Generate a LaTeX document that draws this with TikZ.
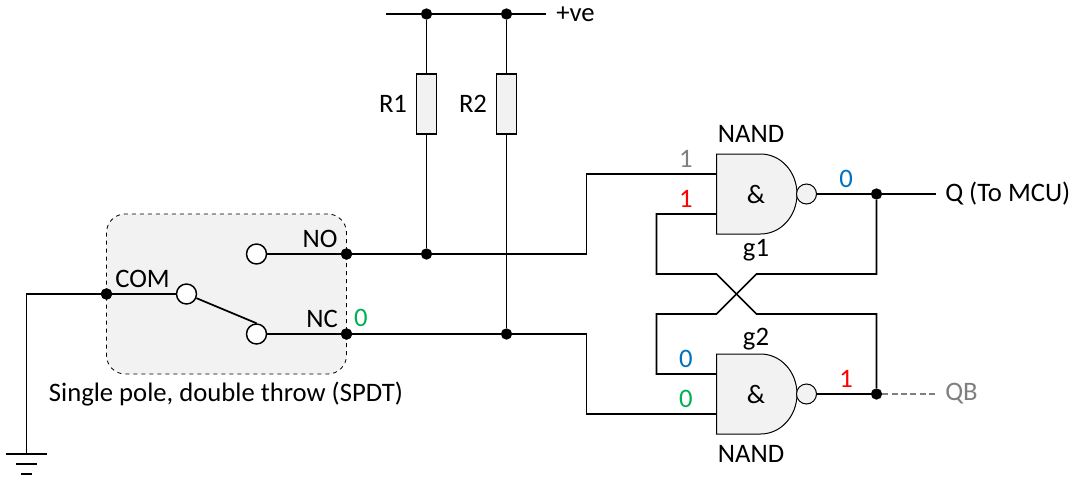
\documentclass[tikz,border=0pt]{standalone}
\usepackage{fontspec}
\setmainfont{Carlito}
\definecolor{shade}{HTML}{F2F2F2}
\definecolor{grn}{HTML}{00B050}
\definecolor{blu}{HTML}{0070C0}
\definecolor{rd}{HTML}{FF0000}
\definecolor{gry}{HTML}{7F7F7F}
\tikzset{
  x=0.75pt,y=-0.75pt,
  wire/.style={draw=black,line width=1.3pt,line join=miter},
  thin outline/.style={draw=black,line width=0.75pt},
  dot/.style={circle,fill=black,draw=none,minimum size=8.5pt,inner sep=0pt},
  contact/.style={circle,fill=white,draw=black,line width=1.1pt,minimum size=15pt,inner sep=0pt},
  bubble/.style={circle,fill=shade,thin outline,minimum size=15pt,inner sep=0pt},
  resistor/.style={rectangle,fill=shade,draw=black,line width=0.9pt,minimum width=15pt,minimum height=45pt,inner sep=0pt},
  gatebox/.style={rectangle,draw=none,minimum width=60pt,minimum height=60pt,inner sep=0pt},
  lbl/.style={font=\fontsize{20}{22}\selectfont,inner sep=0pt,text=black},
}
\newcommand{\gateshape}[1]{%
  \path[fill=shade,thin outline,shift={(#1.center)}]
    (-40,-40) -- (4,-40) .. controls (24.5,-40) and (40.5,-22) .. (40.5,0)
    .. controls (40.5,22) and (24.5,40) .. (4,40) -- (-40,40) -- cycle;}
\begin{document}
\begin{tikzpicture}
\useasboundingbox (0,0) rectangle (1082,485);
% switch housing
\node[rectangle,rounded corners=14pt,fill=shade,draw=black,dashed,line width=0.6pt,minimum width=180pt,minimum height=120pt,inner sep=0pt] (spdt) at (226.5,294) {};
% junction dots
\node[dot] (dcom) at (106.5,294) {};
\node[dot] (dno) at (346.5,254) {};
\node[dot] (dnc) at (346.5,334) {};
\node[dot] (dr1) at (426.5,254) {};
\node[dot] (dr2) at (506.5,334) {};
\node[dot] (t1) at (426.5,14) {};
\node[dot] (t2) at (506.5,14) {};
\node[dot] (dq) at (876.5,194) {};
\node[dot] (dqb) at (876.5,394) {};
% free ends and bends
\coordinate (gndtop) at (26.5,454);
\coordinate (railL) at (386,14);
\coordinate (railR) at (546,14);
\coordinate (qend) at (936,194);
\coordinate (qbend) at (936,394);
\coordinate (xa) at (716.5,274);
\coordinate (xb) at (756.5,274);
\coordinate (xc) at (716.5,314);
\coordinate (xd) at (756.5,314);
% components
\node[resistor] (r1) at (426.5,104) {};
\node[resistor] (r2) at (506.5,104) {};
\node[gatebox] (g1) at (756.5,194) {};
\node[gatebox] (g2) at (756.5,394) {};
\coordinate (g1a) at (716.5,174);
\coordinate (g1b) at (716.5,214);
\coordinate (g2a) at (716.5,374);
\coordinate (g2b) at (716.5,414);
% wires
\draw[wire] (dcom) -| (gndtop);
\draw[wire] (railL) -- (railR);
\draw[wire] (t1) -- (r1);
\draw[wire] (t2) -- (r2);
\draw[wire] (r1) -- (dr1);
\draw[wire] (r2) -- (dr2);
\draw[wire] (dno) -- (586.5,254) -- (586.5,174) -- (g1a);
\draw[wire] (dnc) -- (586.5,334) -- (586.5,414) -- (g2b);
\draw[wire] (g1b) -- (656.5,214) -- (656.5,274) -- (xa) -- (xd) -- (876.5,314) -- (dqb);
\draw[wire] (dq) -- (876.5,274) -- (xb) -- (xc) -- (656.5,314) -- (656.5,374) -- (g2a);
\gateshape{g1}
\gateshape{g2}
\node[bubble] (b1) at (806.5,194) {};
\node[bubble] (b2) at (806.5,394) {};
\draw[wire] (b1) -- (dq);
\draw[wire] (dq) -- (qend);
\draw[wire] (b2) -- (dqb);
\draw[line width=1pt,draw=gry,dash pattern=on 4.5pt off 2.5pt] (dqb) -- (qbend);
% switch internals
\node[contact] (cno) at (256.5,254) {};
\node[contact] (cnc) at (256.5,334) {};
\node[contact] (ccom) at (186.5,294) {};
\draw[wire] (dcom) -- (ccom);
\draw[wire] (ccom) -- (cnc.north);
\draw[wire] (cno) -- (dno);
\draw[wire] (cnc) -- (dnc);
\node[dot] at (dcom) {};
\node[dot] at (dno) {};
\node[dot] at (dnc) {};
% ground
\coordinate (gnd2a) at (16,464); \coordinate (gnd2b) at (37,464);
\coordinate (gnd3a) at (21,474); \coordinate (gnd3b) at (32,474);
\draw[line width=1pt] (6,454) -- (47,454);
\draw[line width=1pt] (gnd2a) -- (gnd2b);
\draw[line width=1pt] (gnd3a) -- (gnd3b);
% labels
\node[lbl] (tcom) at (142.5,279) {COM};
\node[lbl] (tno) at (320,239) {NO};
\node[lbl] (tnc) at (322,319) {NC};
\node[lbl,text=grn] (v0) at (361,318) {0};
\node[lbl] (tspdt) at (226,394) {Single pole, double throw (SPDT)};
\node[lbl] (tr1) at (393,104) {R1};
\node[lbl] (tr2) at (473,104) {R2};
\node[lbl,anchor=west] (tve) at (556,14) {+ve};
\node[lbl] (tn1) at (751,134) {NAND};
\node[lbl] (tg1) at (756,250) {g1};
\node[lbl] (amp1) at (756,194) {\&};
\node[lbl,text=gry] (v1) at (686,159) {1};
\node[lbl,text=rd] (v2) at (686,199) {1};
\node[lbl,text=blu] (v3) at (846,179) {0};
\node[lbl,anchor=west] (tq) at (945,194) {Q (To MCU)};
\node[lbl] (tg2) at (756,339) {g2};
\node[lbl] (amp2) at (756,394) {\&};
\node[lbl,text=blu] (v4) at (686,359) {0};
\node[lbl,text=grn] (v5) at (686,399) {0};
\node[lbl,text=rd] (v6) at (846,379) {1};
\node[lbl,anchor=west,text=gry] (tqb) at (945,394) {QB};
\node[lbl] (tn2) at (751,454) {NAND};
\end{tikzpicture}
\end{document}
